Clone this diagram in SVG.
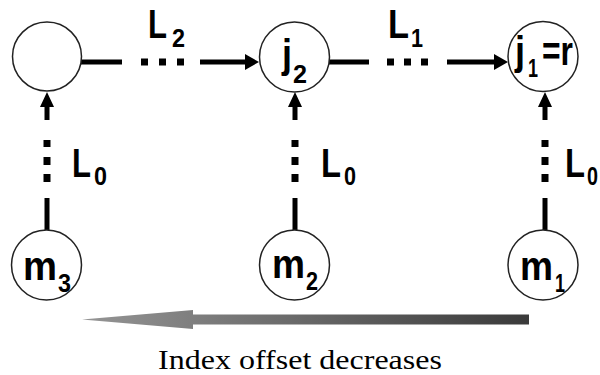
<svg xmlns="http://www.w3.org/2000/svg" width="600" height="375" viewBox="0 0 600 375">
<defs>
<style>
.node{fill:#fff;stroke:#222;stroke-width:1.5}
.lbl{font-family:"Liberation Sans",Arial,sans-serif;font-weight:bold;fill:#000}
.big{font-size:41px}
.sub{font-size:25px}
.line{stroke:#000;stroke-width:5;fill:none}
.dot{fill:#000}
.cap{font-family:"Liberation Serif","Times New Roman",serif;font-size:28px;fill:#000}
</style>
<linearGradient id="g" x1="82" y1="0" x2="529" y2="0" gradientUnits="userSpaceOnUse">
<stop offset="0" stop-color="#959595"/>
<stop offset="1" stop-color="#3a3a3a"/>
</linearGradient>
</defs>
<rect width="600" height="375" fill="#fff"/>
<g id="connectors">
<line class="line" x1="81" y1="62" x2="122" y2="62"/>
<rect class="dot" x="141" y="58.5" width="7" height="7"/>
<rect class="dot" x="159" y="58.5" width="7" height="7"/>
<rect class="dot" x="177" y="58.5" width="7" height="7"/>
<line class="line" x1="200" y1="62" x2="247" y2="62"/>
<polygon class="dot" points="259,62 245,54 245,70"/>
<line class="line" x1="329" y1="62" x2="369" y2="62"/>
<rect class="dot" x="387" y="58.5" width="7" height="7"/>
<rect class="dot" x="404" y="58.5" width="7" height="7"/>
<rect class="dot" x="421" y="58.5" width="7" height="7"/>
<line class="line" x1="447" y1="62" x2="496" y2="62"/>
<polygon class="dot" points="508,62 494,54 494,70"/>
<line class="line" x1="47" y1="230" x2="47" y2="198"/>
<rect class="dot" x="43.5" y="174" width="7" height="8"/>
<rect class="dot" x="43.5" y="157" width="7" height="8"/>
<rect class="dot" x="43.5" y="140" width="7" height="7"/>
<line class="line" x1="47" y1="120" x2="47" y2="105"/>
<polygon class="dot" points="47,92 40,107 54,107"/>
<line class="line" x1="295" y1="230" x2="295" y2="198"/>
<rect class="dot" x="291.5" y="174" width="7" height="8"/>
<rect class="dot" x="291.5" y="157" width="7" height="8"/>
<rect class="dot" x="291.5" y="140" width="7" height="7"/>
<line class="line" x1="295" y1="120" x2="295" y2="105"/>
<polygon class="dot" points="295,92 288,107 302,107"/>
<line class="line" x1="545" y1="230" x2="545" y2="198"/>
<rect class="dot" x="541.5" y="174" width="7" height="8"/>
<rect class="dot" x="541.5" y="157" width="7" height="8"/>
<rect class="dot" x="541.5" y="140" width="7" height="7"/>
<line class="line" x1="545" y1="120" x2="545" y2="105"/>
<polygon class="dot" points="545,92 538,107 552,107"/>
</g>
<g id="edge-labels">
<text class="lbl big" x="148" y="38" textLength="19" lengthAdjust="spacingAndGlyphs">L</text>
<text class="lbl sub" x="172" y="47" textLength="13" lengthAdjust="spacingAndGlyphs">2</text>
<text class="lbl big" x="388" y="38" textLength="21" lengthAdjust="spacingAndGlyphs">L</text>
<text class="lbl sub" x="411" y="47" textLength="12" lengthAdjust="spacingAndGlyphs">1</text>
<text class="lbl big" x="72" y="177" textLength="19" lengthAdjust="spacingAndGlyphs">L</text>
<text class="lbl sub" x="94" y="185" textLength="13" lengthAdjust="spacingAndGlyphs">0</text>
<text class="lbl big" x="321" y="177" textLength="20" lengthAdjust="spacingAndGlyphs">L</text>
<text class="lbl sub" x="344" y="185" textLength="12" lengthAdjust="spacingAndGlyphs">0</text>
<text class="lbl big" x="565" y="177" textLength="20" lengthAdjust="spacingAndGlyphs">L</text>
<text class="lbl sub" x="587" y="185" textLength="11" lengthAdjust="spacingAndGlyphs">0</text>
</g>
<g id="n-top-left">
<circle class="node" cx="47" cy="56.5" r="34.5"/>
</g>
<g id="n-j2">
<circle class="node" cx="294.5" cy="57" r="35"/>
<text class="lbl big" x="282" y="68" textLength="10" lengthAdjust="spacingAndGlyphs">j</text>
<text class="lbl sub" x="293" y="83" textLength="14" lengthAdjust="spacingAndGlyphs">2</text>
</g>
<g id="n-j1">
<circle class="node" cx="543" cy="56.5" r="35"/>
<text class="lbl big" x="515" y="65" textLength="10" lengthAdjust="spacingAndGlyphs">j</text>
<text class="lbl sub" x="528" y="77" textLength="10" lengthAdjust="spacingAndGlyphs">1</text>
<text class="lbl big" x="542" y="65" textLength="31" lengthAdjust="spacingAndGlyphs">=r</text>
</g>
<g id="n-m3">
<circle class="node" cx="46.5" cy="265" r="35"/>
<text class="lbl big" x="23" y="280" textLength="34" lengthAdjust="spacingAndGlyphs">m</text>
<text class="lbl sub" x="58" y="292" textLength="13" lengthAdjust="spacingAndGlyphs">3</text>
</g>
<g id="n-m2">
<circle class="node" cx="294.5" cy="265" r="35"/>
<text class="lbl big" x="272" y="278" textLength="33" lengthAdjust="spacingAndGlyphs">m</text>
<text class="lbl sub" x="306" y="290" textLength="12" lengthAdjust="spacingAndGlyphs">2</text>
</g>
<g id="n-m1">
<circle class="node" cx="543" cy="265" r="35"/>
<text class="lbl big" x="520" y="280" textLength="33" lengthAdjust="spacingAndGlyphs">m</text>
<text class="lbl sub" x="555" y="292" textLength="10" lengthAdjust="spacingAndGlyphs">1</text>
</g>
<g id="offset-arrow">
<polygon fill="url(#g)" points="82,319.5 193,310 193,314.5 529,314.5 529,324.5 193,324.5 193,329"/>
<text class="cap" x="158" y="369" textLength="284" lengthAdjust="spacingAndGlyphs">Index offset decreases</text>
</g>
</svg>
